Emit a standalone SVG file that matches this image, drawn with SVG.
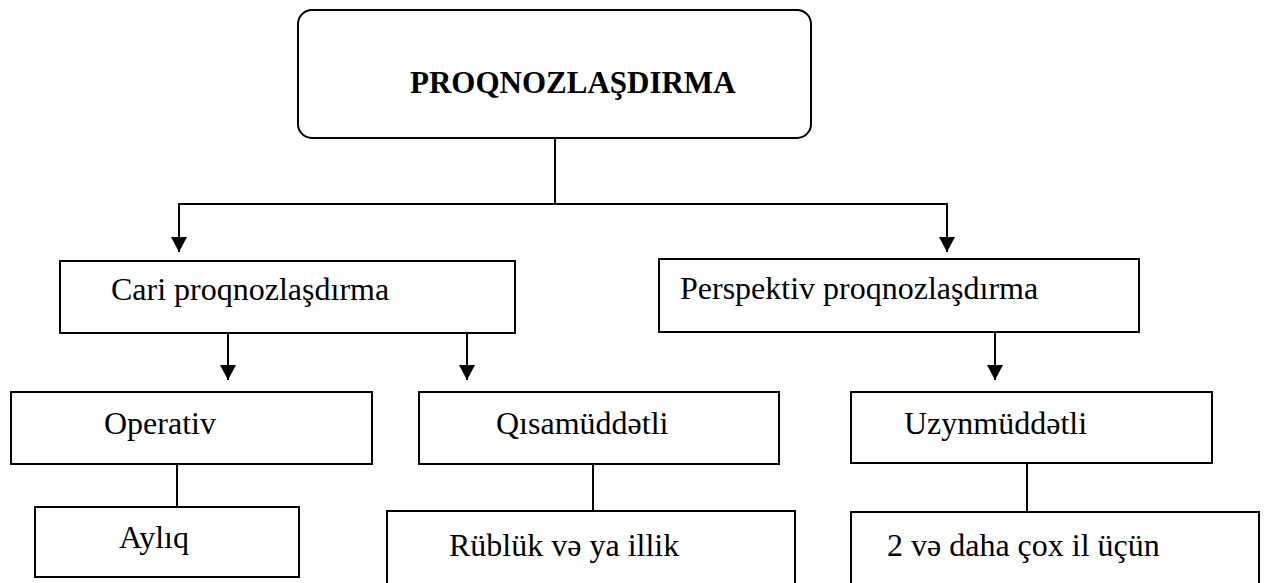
<svg xmlns="http://www.w3.org/2000/svg" width="1267" height="583" viewBox="0 0 1267 583">
<style>
.box{fill:#fff;stroke:#000;stroke-width:2}
.t{font-family:"Liberation Serif","DejaVu Serif","Times New Roman",serif;font-size:32px;fill:#000}
.b{font-weight:bold;font-size:31px}
.c{stroke:#000;stroke-width:2;fill:none}
</style>
<defs>
<marker id="ah" markerUnits="userSpaceOnUse" markerWidth="16" markerHeight="16" refX="15" refY="8" orient="auto" viewBox="0 0 16 16">
<path d="M0,0 L15,8 L0,16 z" fill="#000"/>
</marker>
</defs>
<rect width="1267" height="583" fill="#fff"/>
<g id="connectors">
<path class="c" d="M555,130 V204 M179,204 H947"/>
<path class="c" d="M179,203 V252" marker-end="url(#ah)"/>
<path class="c" d="M947,203 V252" marker-end="url(#ah)"/>
<path class="c" d="M228,328 V380" marker-end="url(#ah)"/>
<path class="c" d="M467,328 V380" marker-end="url(#ah)"/>
<path class="c" d="M995,328 V380" marker-end="url(#ah)"/>
<path class="c" d="M177,460 V507 M593,460 V511 M1027,460 V512"/>
</g>
<g id="n-root">
<rect class="box" x="298" y="10" width="513" height="128" rx="14"/>
<text class="t b" x="410" y="93">PROQNOZLAŞDIRMA</text>
</g>
<g id="n-cari">
<rect class="box" x="60" y="261" width="455" height="72"/>
<text class="t" x="111" y="300">Cari proqnozlaşdırma</text>
</g>
<g id="n-persp">
<rect class="box" x="659" y="259" width="480" height="73"/>
<text class="t" x="680" y="299">Perspektiv proqnozlaşdırma</text>
</g>
<g id="n-operativ">
<rect class="box" x="11" y="392" width="361" height="72"/>
<text class="t" x="104" y="434">Operativ</text>
</g>
<g id="n-qisa">
<rect class="box" x="419" y="392" width="360" height="72"/>
<text class="t" x="496" y="434">Qısamüddətli</text>
</g>
<g id="n-uzun">
<rect class="box" x="851" y="392" width="361" height="71"/>
<text class="t" x="904" y="434">Uzynmüddətli</text>
</g>
<g id="n-ayliq">
<rect class="box" x="35" y="507" width="264" height="70"/>
<text class="t" x="119" y="548">Aylıq</text>
</g>
<g id="n-rubluk">
<rect class="box" x="387" y="511" width="408" height="90"/>
<text class="t" x="449" y="556">Rüblük və ya illik</text>
</g>
<g id="n-iki">
<rect class="box" x="851" y="512" width="408" height="90"/>
<text class="t" x="887" y="556">2 və daha çox il üçün</text>
</g>
</svg>
